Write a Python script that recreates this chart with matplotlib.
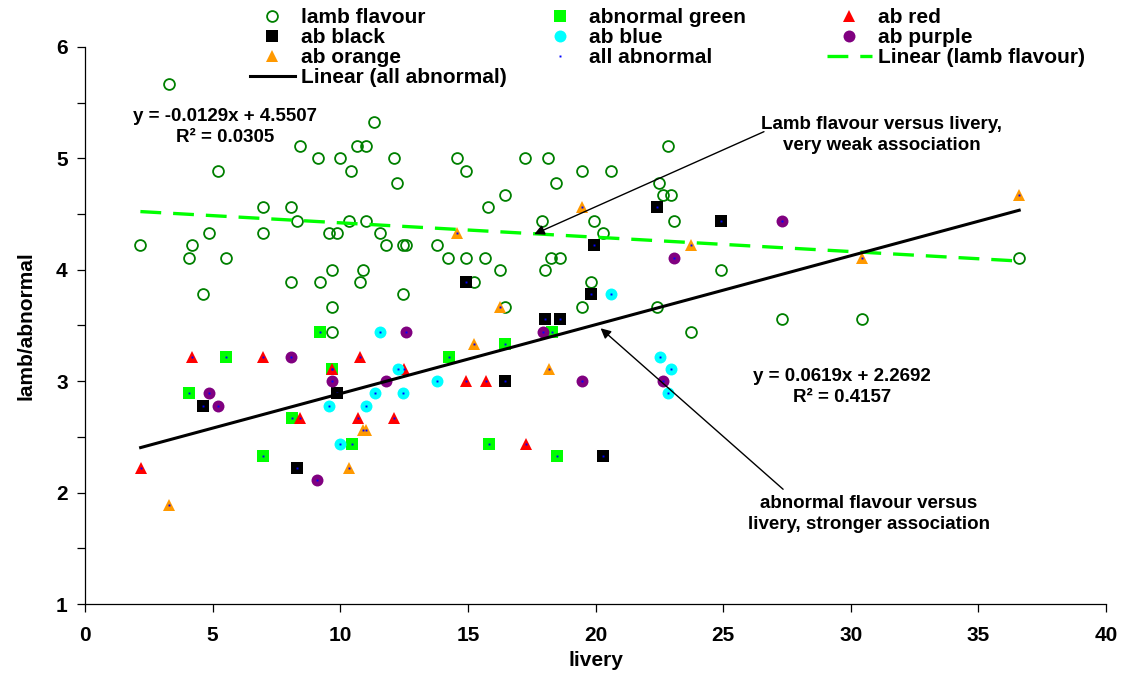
import numpy as np
import matplotlib.pyplot as plt
from matplotlib.ticker import MultipleLocator

plt.rcParams['font.family'] = ['Liberation Sans', 'DejaVu Sans']
plt.rcParams['font.weight'] = 'bold'
plt.rcParams['lines.scale_dashes'] = False

# lamb flavour score per sample (open green circles)
lamb_x = [2.17, 3.28, 4.08, 4.2, 4.64, 4.86, 5.2, 5.53, 6.98, 6.98, 8.09, 8.3,
          8.09, 8.42, 9.11, 9.99, 10.44, 10.64, 10.99, 11.32, 10.34, 10.99, 9.54, 9.88,
          9.67, 10.89, 9.2, 10.78, 9.67, 9.67, 12.12, 14.58, 14.92, 12.24, 17.25, 18.14,
          19.49, 20.61, 18.47, 16.47, 15.8, 22.85, 22.5, 22.63, 22.97, 17.9, 19.93, 23.07,
          11.57, 20.29, 11.79, 12.45, 12.57, 13.8, 14.24, 14.92, 15.69, 18.25, 18.59, 16.25,
          18.04, 24.9, 15.25, 19.83, 12.46, 16.47, 19.49, 22.39, 23.73, 27.3, 30.44, 36.6]
lamb_y = [4.22, 5.67, 4.11, 4.22, 3.78, 4.33, 4.89, 4.11, 4.56, 4.33, 4.56, 4.44,
          3.89, 5.11, 5.0, 5.0, 4.89, 5.11, 5.11, 5.33, 4.44, 4.44, 4.33, 4.33,
          4.0, 4.0, 3.89, 3.89, 3.67, 3.44, 5.0, 5.0, 4.89, 4.78, 5.0, 5.0,
          4.89, 4.89, 4.78, 4.67, 4.56, 5.11, 4.78, 4.67, 4.67, 4.44, 4.44, 4.44,
          4.33, 4.33, 4.22, 4.22, 4.22, 4.22, 4.11, 4.11, 4.11, 4.11, 4.11, 4.0,
          4.0, 4.0, 3.89, 3.89, 3.78, 3.67, 3.67, 3.67, 3.44, 3.56, 3.56, 4.11]

# abnormal flavour score, split by colour group
green_x = [9.22, 5.53, 9.67, 4.09, 8.12, 10.46, 6.98, 18.3, 16.47, 14.25, 15.82, 18.5]
green_y = [3.44, 3.22, 3.11, 2.89, 2.67, 2.44, 2.33, 3.44, 3.33, 3.22, 2.44, 2.33]
red_x = [4.2, 6.98, 10.78, 9.67, 8.43, 10.69, 2.18, 12.48, 14.93, 15.71, 12.12, 17.27]
red_y = [3.22, 3.22, 3.22, 3.11, 2.67, 2.67, 2.22, 3.11, 3.0, 3.0, 2.67, 2.44]
black_x = [4.64, 9.88, 8.31, 14.93, 19.84, 18.04, 18.62, 16.47, 20.29, 22.39, 19.96, 24.9]
black_y = [2.78, 2.89, 2.22, 3.89, 3.78, 3.56, 3.56, 3.0, 2.33, 4.56, 4.22, 4.44]
blue_x = [9.54, 11.0, 11.35, 11.55, 9.99, 20.6, 12.26, 13.79, 22.51, 22.97, 22.85, 12.46]
blue_y = [2.78, 2.78, 2.89, 3.44, 2.44, 3.78, 3.11, 3.0, 3.22, 3.11, 2.89, 2.89]
purple_x = [8.09, 9.67, 4.86, 5.2, 9.1, 12.57, 17.93, 11.79, 19.49, 22.63, 23.07, 27.3]
purple_y = [3.22, 3.0, 2.89, 2.78, 2.11, 3.44, 3.44, 3.0, 3.0, 3.0, 4.11, 4.44]
orange_x = [10.88, 11.0, 10.34, 3.29, 16.27, 15.25, 18.17, 19.49, 14.58, 23.75, 30.45, 36.6]
orange_y = [2.56, 2.56, 2.22, 1.89, 3.67, 3.33, 3.11, 4.56, 4.33, 4.22, 4.11, 4.67]

# trendline coefficients as printed on the chart
lamb_slope, lamb_icpt, lamb_r2 = -0.0129, 4.5507, 0.0305
ab_slope, ab_icpt, ab_r2 = 0.0619, 2.2692, 0.4157

all_x = green_x + red_x + black_x + blue_x + purple_x + orange_x
all_y = green_y + red_y + black_y + blue_y + purple_y + orange_y

fig = plt.figure(figsize=(11.26, 6.81), dpi=100)
ax = fig.add_axes([85/1126, 1 - 604/681, (1106 - 85)/1126, (604 - 47)/681])

h_lamb, = ax.plot(lamb_x, lamb_y, 'o', ms=7.8, mfc='none', mec='#008000', mew=1.3,
                  label='lamb flavour')
h_green, = ax.plot(green_x, green_y, 's', ms=8.5, color='#00FF00', mew=0, label='abnormal green')
h_red, = ax.plot(red_x, red_y, '^', ms=9, color='#FF0000', mew=0, label='ab red')
h_black, = ax.plot(black_x, black_y, 's', ms=8.5, color='#000000', mew=0, label='ab black')
h_blue, = ax.plot(blue_x, blue_y, 'o', ms=8.6, color='#00FFFF', mew=0, label='ab blue')
h_purple, = ax.plot(purple_x, purple_y, 'o', ms=8.6, color='#800080', mew=0, label='ab purple')
h_orange, = ax.plot(orange_x, orange_y, '^', ms=9, color='#FF9900', mew=0, label='ab orange')
h_all, = ax.plot(all_x, all_y, 's', ms=1.4, color='#0000FF', mew=0, label='all abnormal')

# linear trendlines over the range of livery values
xfit = np.array([min(lamb_x), max(lamb_x)])
h_lline, = ax.plot(xfit, lamb_slope * xfit + lamb_icpt, color='#00FF00', lw=2.4,
                   dashes=(15, 8.6), label='Linear (lamb flavour)')
xfit = np.array([min(all_x), max(all_x)])
h_aline, = ax.plot(xfit, ab_slope * xfit + ab_icpt, color='black', lw=2.2,
                   label='Linear (all abnormal)')

# equations and notes
ax.text(5.49, 5.28, 'y = %.4fx + %.4f\nR² = %.4f' % (lamb_slope, lamb_icpt, lamb_r2),
        ha='center', va='center', fontsize=13.5, linespacing=1.3)
ax.text(29.67, 2.95, 'y = %.4fx + %.4f\nR² = %.4f' % (ab_slope, ab_icpt, ab_r2),
        ha='center', va='center', fontsize=13.5, linespacing=1.3)
ax.text(31.2, 5.21, 'Lamb flavour versus livery,\nvery weak association',
        ha='center', va='center', fontsize=13.5, linespacing=1.3)
ax.text(30.7, 1.81, 'abnormal flavour versus\nlivery, stronger association',
        ha='center', va='center', fontsize=13.5, linespacing=1.3)
arrow = dict(arrowstyle='-|>', color='black', lw=1, mutation_scale=15, shrinkA=0, shrinkB=0)
ax.annotate('', xy=(17.6, 4.32), xytext=(26.6, 5.24), arrowprops=arrow)
ax.annotate('', xy=(20.2, 3.475), xytext=(27.35, 2.03), arrowprops=arrow)

# axes
ax.set_xlim(0, 40)
ax.set_ylim(1, 6)
ax.xaxis.set_major_locator(MultipleLocator(5))
ax.yaxis.set_major_locator(MultipleLocator(1))
ax.yaxis.set_minor_locator(MultipleLocator(0.5))
ax.spines['top'].set_visible(False)
ax.spines['right'].set_visible(False)
for s in ['left', 'bottom']:
    ax.spines[s].set_linewidth(0.9)
ax.tick_params(which='both', direction='out', length=5.5, width=0.9, labelsize=15)
ax.tick_params(axis='x', pad=10)
ax.tick_params(axis='y', which='both', pad=7)
ax.set_xlabel('livery', fontsize=15, fontweight='bold')
ax.set_ylabel('lamb/abnormal', fontsize=15, fontweight='bold')
ax.xaxis.set_label_coords(0.5, -0.085)
ax.yaxis.set_label_coords(-0.048, 0.5)

# legend: three columns laid out like the original, row by row
cols = [[h_lamb, h_black, h_orange, h_aline],
        [h_green, h_blue, h_all],
        [h_red, h_purple, h_lline]]
starts = [250, 538, 827]
for hs, x0 in zip(cols, starts):
    fig.legend(handles=hs, loc='upper left', bbox_to_anchor=(x0/1126, 1 - 8/681),
               frameon=False, fontsize=15, handlelength=2.15, handletextpad=0.3,
               labelspacing=0.05, borderpad=0, borderaxespad=0, numpoints=1)

plt.savefig('out.png', dpi=100)
